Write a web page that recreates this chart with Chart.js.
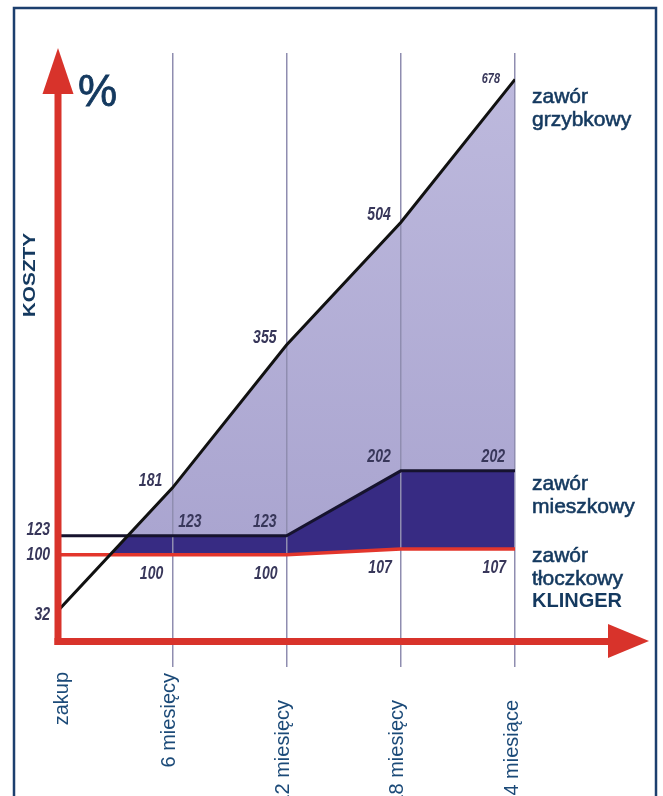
<!DOCTYPE html>
<html lang="pl">
<head>
<meta charset="utf-8">
<title>Koszty zaworów</title>
<script src="https://cdn.jsdelivr.net/npm/chart.js@4.4.1/dist/chart.umd.min.js"></script>
<style>
  html, body { margin: 0; padding: 0; background: #fff; overflow: hidden; }
  canvas { display: block; }
</style>
</head>
<body>
<canvas id="kosztyChart" width="663" height="840"></canvas>
<script>
// okresy eksploatacji (miesiące) i ich opisy
const MONTHS = [0, 6, 12, 18, 24];
const MONTH_LABELS = ['zakup', '6 miesięcy', '12 miesięcy', '18 miesięcy', '24 miesiące'];

// koszty w % względem ceny zaworu tłoczkowego
const GRZYBKOWY = [32, 181, 355, 504, 678];
const MIESZKOWY = [123, 123, 123, 202, 202];
const KLINGER   = [100, 100, 100, 107, 107];

const Y_TICKS = [32, 100, 123];
const SERIES_NAMES = [
    ['zawór', 'grzybkowy'],
    ['zawór', 'mieszkowy'],
    ['zawór', 'tłoczkowy', 'KLINGER']
];

const RED = '#d8332b';
const NAVY = '#14395f';
const NUM_COLOR = '#38375a';

function toPoints(values) {
    return values.map((v, i) => ({ x: MONTHS[i], y: v }));
}

function italicNum(c, text, x, y, align, size) {
    c.save();
    c.translate(x, y);
    c.scale(0.78, 1);
    c.font = `italic bold ${size}px "Liberation Sans", Arial, sans-serif`;
    c.textAlign = align;
    c.textBaseline = 'middle';
    c.fillStyle = NUM_COLOR;
    c.fillText(text, 0, 0);
    c.restore();
}

// ramka, strzałki osi, opisy i wartości
const decor = {
    id: 'decor',
    afterDraw(chart) {
        const c = chart.ctx;
        const xs = chart.scales.x;
        const ys = chart.scales.y;
        const x0 = xs.getPixelForValue(0);
        const y0 = ys.getPixelForValue(0);

        c.save();

        // ramka
        c.strokeStyle = '#1c3f6e';
        c.lineWidth = 2.5;
        c.strokeRect(14, 8, 642, 900);

        // oś Y ze strzałką
        c.fillStyle = RED;
        c.fillRect(x0 - 3.5, 90, 7, y0 + 8 - 90);
        c.beginPath();
        c.moveTo(x0 - 15.5, 94);
        c.lineTo(x0 + 15.5, 94);
        c.lineTo(x0, 48);
        c.closePath();
        c.fill();

        // oś X ze strzałką
        c.fillRect(x0 - 3.5, y0 + 1, 612 - x0, 7);
        c.beginPath();
        c.moveTo(608, y0 - 13);
        c.lineTo(608, y0 + 21);
        c.lineTo(649, y0 + 4);
        c.closePath();
        c.fill();

        // "%"
        c.fillStyle = NAVY;
        c.strokeStyle = NAVY;
        c.font = '44px "Liberation Sans", Arial, sans-serif';
        c.textAlign = 'left';
        c.textBaseline = 'alphabetic';
        c.lineWidth = 0.8;
        c.fillText('%', 78, 106);
        c.strokeText('%', 78, 106);

        // KOSZTY
        c.save();
        c.translate(31, 275);
        c.rotate(-Math.PI / 2);
        c.scale(1.3, 1);
        c.font = 'bold 16px "Liberation Sans", Arial, sans-serif';
        c.textAlign = 'center';
        c.textBaseline = 'middle';
        c.fillText('KOSZTY', 0, 0);
        c.restore();

        // opisy osi X (pionowo)
        const labelTop = [672, 673, 700, 700, 700];
        c.fillStyle = '#1b4a78';
        c.font = '20px "Liberation Sans", Arial, sans-serif';
        MONTHS.forEach((m, i) => {
            const px = xs.getPixelForValue(m) + (i === 0 ? 4 : -3);
            c.save();
            c.translate(px, labelTop[i]);
            c.rotate(-Math.PI / 2);
            c.textAlign = 'right';
            c.textBaseline = 'middle';
            c.fillText(MONTH_LABELS[i], 0, 0);
            c.restore();
        });

        // wartości na osi Y
        const nudge = { 32: 4, 100: 0, 123: -6 };
        Y_TICKS.forEach(v => {
            italicNum(c, String(v), 50, ys.getPixelForValue(v) + nudge[v], 'right', 18);
        });

        // wartości przy punktach
        const series = [GRZYBKOWY, MIESZKOWY, KLINGER];
        const place = [
            { dx: -10, dy: -7 },
            { dx: -10, dy: -14 },
            { dx: -9, dy: 19 }
        ];
        series.forEach((vals, s) => {
            vals.forEach((v, i) => {
                if (i === 0) return;
                const px = xs.getPixelForValue(MONTHS[i]);
                const py = ys.getPixelForValue(v);
                let dx = place[s].dx, dy = place[s].dy, align = 'right', size = 18;
                if (s === 0 && i === vals.length - 1) { dx = -15; dy = 0; size = 14; }
                if (s === 1 && i === 1) { dx = 6; align = 'left'; }
                italicNum(c, String(v), px + dx, py + dy, align, size);
            });
        });

        // nazwy zaworów po prawej
        const namePos = [103, 490, 562];
        c.fillStyle = NAVY;
        c.strokeStyle = NAVY;
        c.lineWidth = 0.6;
        c.textAlign = 'left';
        c.textBaseline = 'alphabetic';
        SERIES_NAMES.forEach((lines, s) => {
            lines.forEach((t, j) => {
                const y = namePos[s] + j * 22.5;
                c.font = (t === 'KLINGER' ? 'bold 20px' : '21px') + ' "Liberation Sans", Arial, sans-serif';
                c.fillText(t, 532, y);
                if (t !== 'KLINGER') c.strokeText(t, 532, y);
            });
        });

        c.restore();
    }
};

const canvas = document.getElementById('kosztyChart');
const ctx = canvas.getContext('2d');

const lavender = ctx.createLinearGradient(0, 80, 0, 540);
lavender.addColorStop(0, '#bdb9dd');
lavender.addColorStop(1, '#aaa5d0');

new Chart(ctx, {
    type: 'line',
    data: {
        datasets: [
            {
                label: 'zawór grzybkowy',
                data: toPoints(GRZYBKOWY),
                borderColor: '#111111',
                borderWidth: 3,
                pointRadius: 0,
                fill: { target: 1, above: lavender, below: '#ffffff' }
            },
            {
                label: 'zawór mieszkowy',
                data: toPoints(MIESZKOWY),
                borderColor: '#16132e',
                borderWidth: 3,
                pointRadius: 0,
                fill: { target: 2, above: '#372b83', below: 'rgba(0,0,0,0)' }
            },
            {
                label: 'zawór tłoczkowy KLINGER',
                data: toPoints(KLINGER),
                borderColor: '#e3362c',
                borderWidth: 3.5,
                pointRadius: 0,
                fill: false
            }
        ]
    },
    options: {
        responsive: false,
        animation: false,
        devicePixelRatio: 1,
        layout: { padding: { top: 53, right: 148, left: 0, bottom: 0 } },
        plugins: {
            legend: { display: false },
            tooltip: { enabled: false },
            filler: { drawTime: 'beforeDraw' }
        },
        scales: {
            x: {
                type: 'linear',
                min: 0,
                max: 24,
                afterBuildTicks: (scale) => { scale.ticks = MONTHS.map(v => ({ value: v })); },
                afterFit: (scale) => { scale.height = 840 - 637; },
                border: { display: false },
                grid: {
                    color: (c) => (c.tick && c.tick.value === 0) ? 'rgba(0,0,0,0)' : '#8f8db0',
                    lineWidth: 1.5,
                    tickLength: 30
                },
                ticks: { display: false }
            },
            y: {
                min: 0,
                max: 710,
                afterFit: (scale) => { scale.width = 58; },
                border: { display: false },
                grid: { display: false },
                ticks: { display: false }
            }
        }
    },
    plugins: [decor]
});
</script>
</body>
</html>
